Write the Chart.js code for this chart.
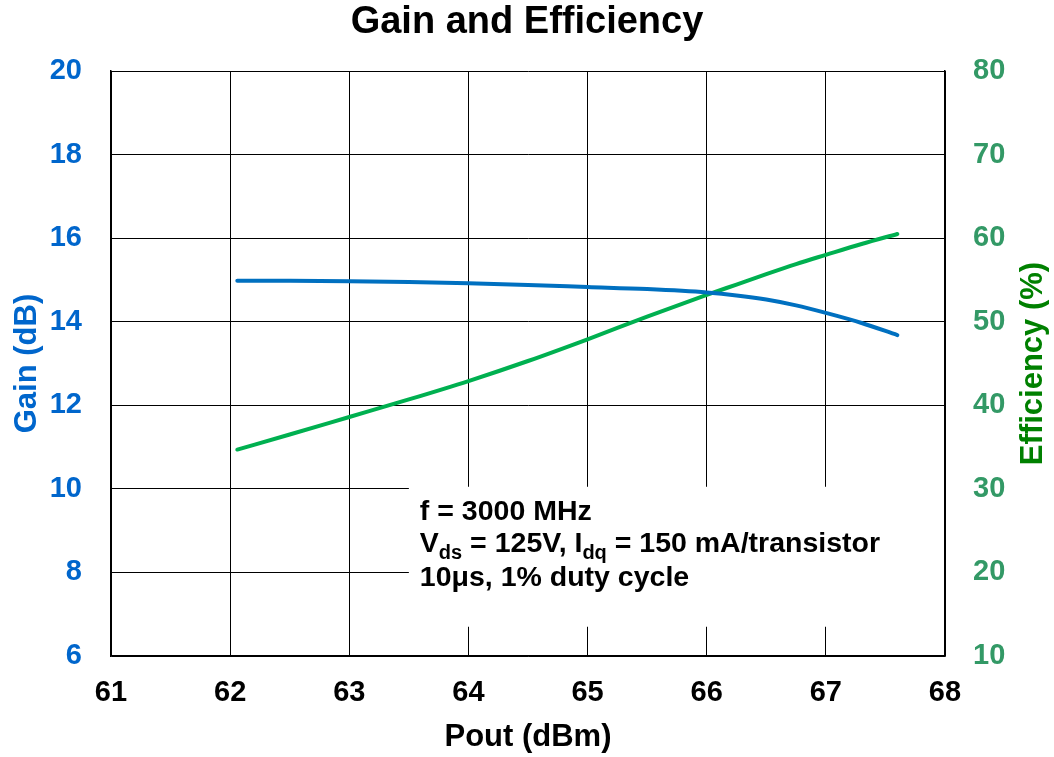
<!DOCTYPE html>
<html>
<head>
<meta charset="utf-8">
<script src="https://cdn.jsdelivr.net/npm/chart.js@4.4.1/dist/chart.umd.min.js"></script>
<style>
  body { margin: 0; background: #fff; }
  #wrap { width: 1054px; height: 757px; position: relative; }
</style>
</head>
<body>
<div id="wrap"><canvas id="myChart"></canvas></div>
<script>
'use strict'
//////////////////
// Data
//////////////////
const poutDbm = [62.06, 62.5, 63, 63.5, 64, 64.5, 65, 65.5, 66, 66.25, 66.5, 66.75, 67, 67.3, 67.6];
const gainDb = [14.98, 14.98, 14.97, 14.95, 14.92, 14.88, 14.83, 14.78, 14.70, 14.63, 14.53, 14.39, 14.21, 13.97, 13.68];
const efficiencyPct = [34.7, 36.5, 38.6, 40.7, 42.9, 45.3, 47.9, 50.6, 53.2, 54.45, 55.7, 56.9, 58.0, 59.3, 60.5];

const xRange = [61, 68];
const gainRange = [6, 20];
const effRange = [10, 80];

// note box corners, in data units (x: dBm, y: gain dB)
const noteX = [63.5, 68];
const noteY = [10.05, 6.7];

const fontFace = '"Liberation Sans", Arial, sans-serif';
const blue = '#0070C0';
const green = '#00B050';

function toPoints(xs, ys){
    return xs.map((x, i) => ({x: x, y: ys[i]}));
}

// white box with the test conditions, drawn over the grid
const noteBox = {
    id: 'noteBox',
    beforeDatasetsDraw(chart){
        const ctx = chart.ctx;
        const x = chart.scales.x;
        const y = chart.scales.yGain;
        const left = x.getPixelForValue(noteX[0]);
        const right = chart.chartArea.right - 1;
        const top = y.getPixelForValue(noteY[0]);
        const bottom = y.getPixelForValue(noteY[1]);
        ctx.save();
        ctx.fillStyle = '#fff';
        ctx.fillRect(left, top, right - left, bottom - top);

        ctx.fillStyle = '#000';
        ctx.textBaseline = 'alphabetic';
        ctx.textAlign = 'left';
        const big = 'bold 28.5px ' + fontFace;
        const small = 'bold 20px ' + fontFace;
        let tx = left + 11;

        ctx.font = big;
        ctx.fillText('f = 3000 MHz', tx, top + 33);

        // line 2 with subscripts
        const parts = [['V', false], ['ds', true], [' = 125V, I', false], ['dq', true], [' = 150 mA/transistor', false]];
        let px = tx;
        for (let p of parts){
            ctx.font = p[1] ? small : big;
            ctx.fillText(p[0], px, top + 65 + (p[1] ? 7 : 0));
            px += ctx.measureText(p[0]).width;
        }

        ctx.font = big;
        ctx.fillText('10\u03bcs, 1% duty cycle', tx, top + 99);
        ctx.restore();
    }
};

// right axis title, reading bottom to top like the left one
const rightTitle = {
    id: 'rightTitle',
    afterDraw(chart){
        const ctx = chart.ctx;
        const area = chart.chartArea;
        ctx.save();
        ctx.translate(1033, (area.top + area.bottom) / 2);
        ctx.rotate(-Math.PI / 2);
        ctx.fillStyle = '#008000';
        ctx.font = 'bold 31px ' + fontFace;
        ctx.textAlign = 'center';
        ctx.textBaseline = 'middle';
        ctx.fillText('Efficiency (%)', 0, 0);
        ctx.restore();
    }
};

const data = {
    datasets: [{
        label: 'Gain',
        data: toPoints(poutDbm, gainDb),
        yAxisID: 'yGain',
        borderColor: blue,
        borderWidth: 4,
        pointRadius: 0,
        cubicInterpolationMode: 'monotone',
        borderCapStyle: 'round'
    },
    {
        label: 'Efficiency',
        data: toPoints(poutDbm, efficiencyPct),
        yAxisID: 'yEff',
        borderColor: green,
        borderWidth: 4,
        pointRadius: 0,
        cubicInterpolationMode: 'monotone',
        borderCapStyle: 'round'
    }]
};

const config = {
    type: 'line',
    data: data,
    options: {
        responsive: true,
        maintainAspectRatio: false,
        animation: false,
        layout: { padding: 0 },
        plugins: {
            legend: { display: false },
            tooltip: { enabled: false },
            title: {
                display: true,
                text: 'Gain and Efficiency',
                color: '#000',
                font: { family: fontFace, size: 38, weight: 'bold' },
                padding: { top: 0, bottom: 25.4 }
            }
        },
        scales: {
            x: {
                type: 'linear',
                min: xRange[0],
                max: xRange[1],
                afterFit(scale){ scale.height = 101; },
                ticks: {
                    stepSize: 1,
                    autoSkip: false,
                    maxRotation: 0,
                    padding: 20,
                    color: '#000',
                    font: { family: fontFace, size: 29, weight: 'bold' }
                },
                grid: { color: '#000', lineWidth: 1, drawTicks: false },
                border: { color: '#000', width: 1.5 },
                title: {
                    display: true,
                    text: 'Pout (dBm)',
                    color: '#000',
                    font: { family: fontFace, size: 31, weight: 'bold' },
                    padding: { top: 0, bottom: 1 }
                }
            },
            yGain: {
                type: 'linear',
                position: 'left',
                min: gainRange[0],
                max: gainRange[1],
                afterFit(scale){ scale.width = 111; },
                ticks: {
                    stepSize: 2,
                    padding: 29,
                    color: '#0066CC',
                    font: { family: fontFace, size: 29, weight: 'bold' }
                },
                grid: { color: '#000', lineWidth: 1, drawTicks: false },
                border: { color: '#000', width: 1.5 },
                title: {
                    display: true,
                    text: 'Gain (dB)',
                    color: '#0066CC',
                    font: { family: fontFace, size: 31, weight: 'bold' },
                    padding: { top: 9, bottom: 0 }
                }
            },
            yEff: {
                type: 'linear',
                position: 'right',
                min: effRange[0],
                max: effRange[1],
                afterFit(scale){ scale.width = 109; },
                ticks: {
                    stepSize: 10,
                    padding: 28,
                    color: '#339966',
                    font: { family: fontFace, size: 29, weight: 'bold' }
                },
                grid: { display: false, drawTicks: false },
                border: { color: '#000', width: 1.5 }
            }
        }
    },
    plugins: [noteBox, rightTitle]
};

let canvasChart = document.getElementById('myChart');
const myChart = new Chart(canvasChart, config);
</script>
</body>
</html>
